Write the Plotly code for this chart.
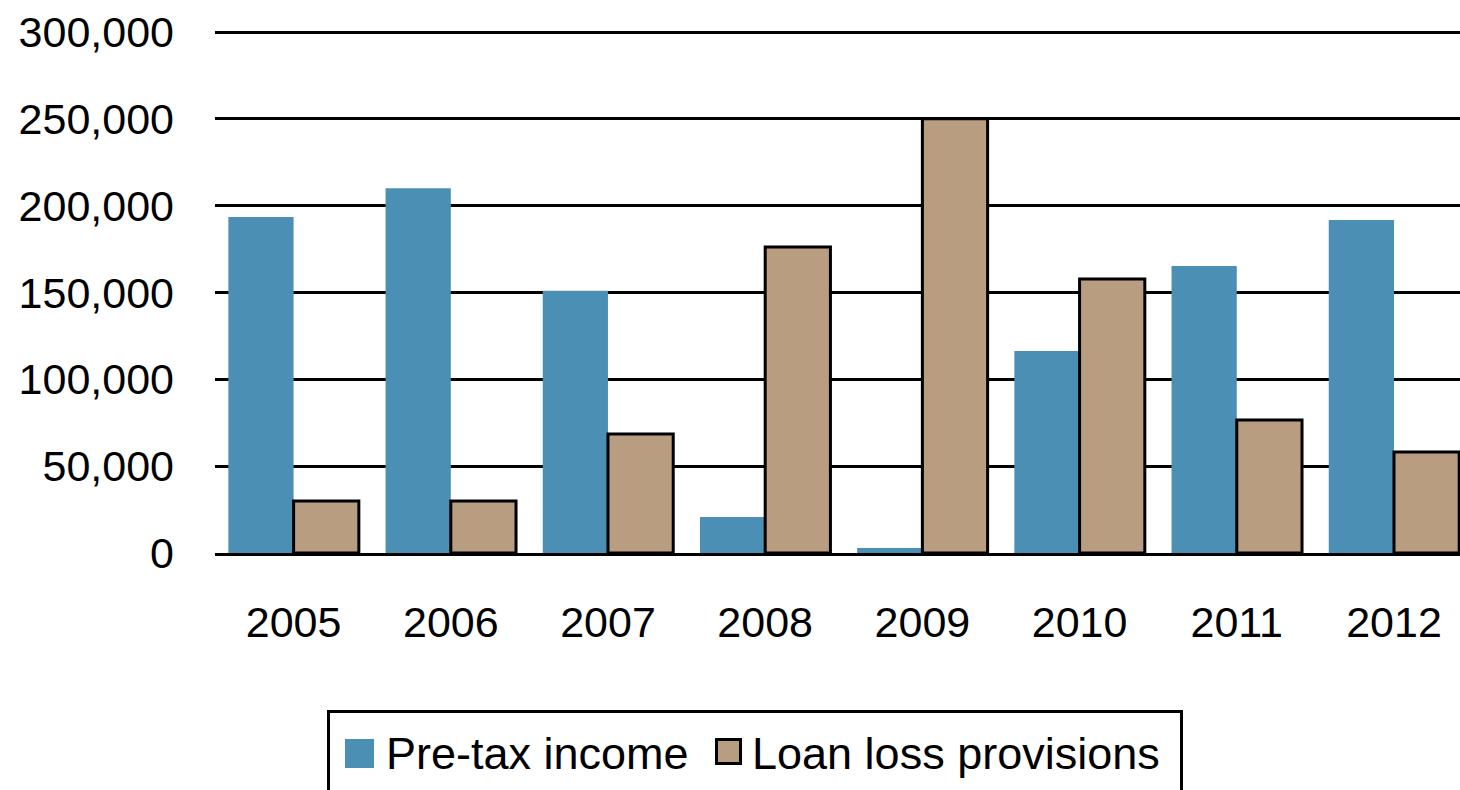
import plotly.graph_objects as go

years = ["2005", "2006", "2007", "2008", "2009", "2010", "2011", "2012"]
pretax_income = [193500, 210000, 151000, 20700, 2900, 116300, 165300, 191700]
loan_loss_provisions = [30000, 30000, 68500, 176200, 250000, 157800, 76600, 58200]
y_ticks = [0, 50000, 100000, 150000, 200000, 250000, 300000]

BLUE = "#4B90B4"
TAN = "#B89D81"
FONT = "Liberation Sans, Arial, sans-serif"

W, H = 1460, 790
OFF = 0  # page body margin (removed via post_script)
# plot area in page coordinates
PL, PR, PT, PB = 215, 1460, 31, 553
L, T = PL - OFF, PT - OFF
R = W - (PR - OFF)
B = H - (PB - OFF)
PW, PH = PR - PL, PB - PT


def px(x):
    return (x - PL) / PW


def py(y):
    return (PB - y) / PH


fig = go.Figure()
fig.add_trace(go.Bar(x=years, y=pretax_income, name="Pre-tax income",
                     marker=dict(color=BLUE, line=dict(width=0))))
fig.add_trace(go.Bar(x=years, y=loan_loss_provisions, name="Loan loss provisions",
                     marker=dict(color=TAN, line=dict(color="black", width=3))))

shapes = [
    dict(type="rect", xref="paper", yref="paper", x0=px(328.5), x1=px(1181.5),
         y0=py(711.5), y1=py(810), line=dict(color="black", width=3), fillcolor="white", layer="above"),
    dict(type="rect", xref="paper", yref="paper", x0=px(345), x1=px(374),
         y0=py(739), y1=py(768), line=dict(width=0), fillcolor=BLUE, layer="above"),
    dict(type="rect", xref="paper", yref="paper", x0=px(716.5), x1=px(740.5),
         y0=py(739.5), y1=py(763.5), line=dict(color="black", width=3), fillcolor=TAN, layer="above"),
]
annotations = [
    dict(xref="paper", yref="paper", x=px(384), y=py(753), xanchor="left", yanchor="middle",
         text="Pre-tax income", showarrow=False, font=dict(family=FONT, size=45, color="black")),
    dict(xref="paper", yref="paper", x=px(750), y=py(753), xanchor="left", yanchor="middle",
         text="Loan loss provisions", showarrow=False, font=dict(family=FONT, size=45, color="black")),
]

fig.update_layout(
    width=W, height=H,
    margin=dict(l=L, r=R, t=T, b=B, pad=0, autoexpand=False),
    paper_bgcolor="white", plot_bgcolor="white",
    barmode="group", bargap=0.17, bargroupgap=0.0,
    showlegend=False,
    font=dict(family=FONT, size=43, color="black"),
    shapes=shapes, annotations=annotations,
    xaxis=dict(type="category", range=[-0.5, 7.42], showgrid=False, ticks="", automargin=False,
               showline=True, linecolor="black", linewidth=3, layer="above traces",
               tickfont=dict(family=FONT, size=43, color="black"), ticklabelstandoff=29),
    yaxis=dict(range=[0, 300600], tickvals=y_ticks, tickformat=",", showgrid=True, automargin=False,
               gridcolor="black", gridwidth=2.5, zeroline=False, showline=False, ticks="",
               tickfont=dict(family=FONT, size=43, color="black"), ticklabelstandoff=40),
)

fig.write_html(
    "out.html",
    config={"displayModeBar": False},
    post_script="document.body.style.margin='0';document.body.style.overflow='hidden';",
)
